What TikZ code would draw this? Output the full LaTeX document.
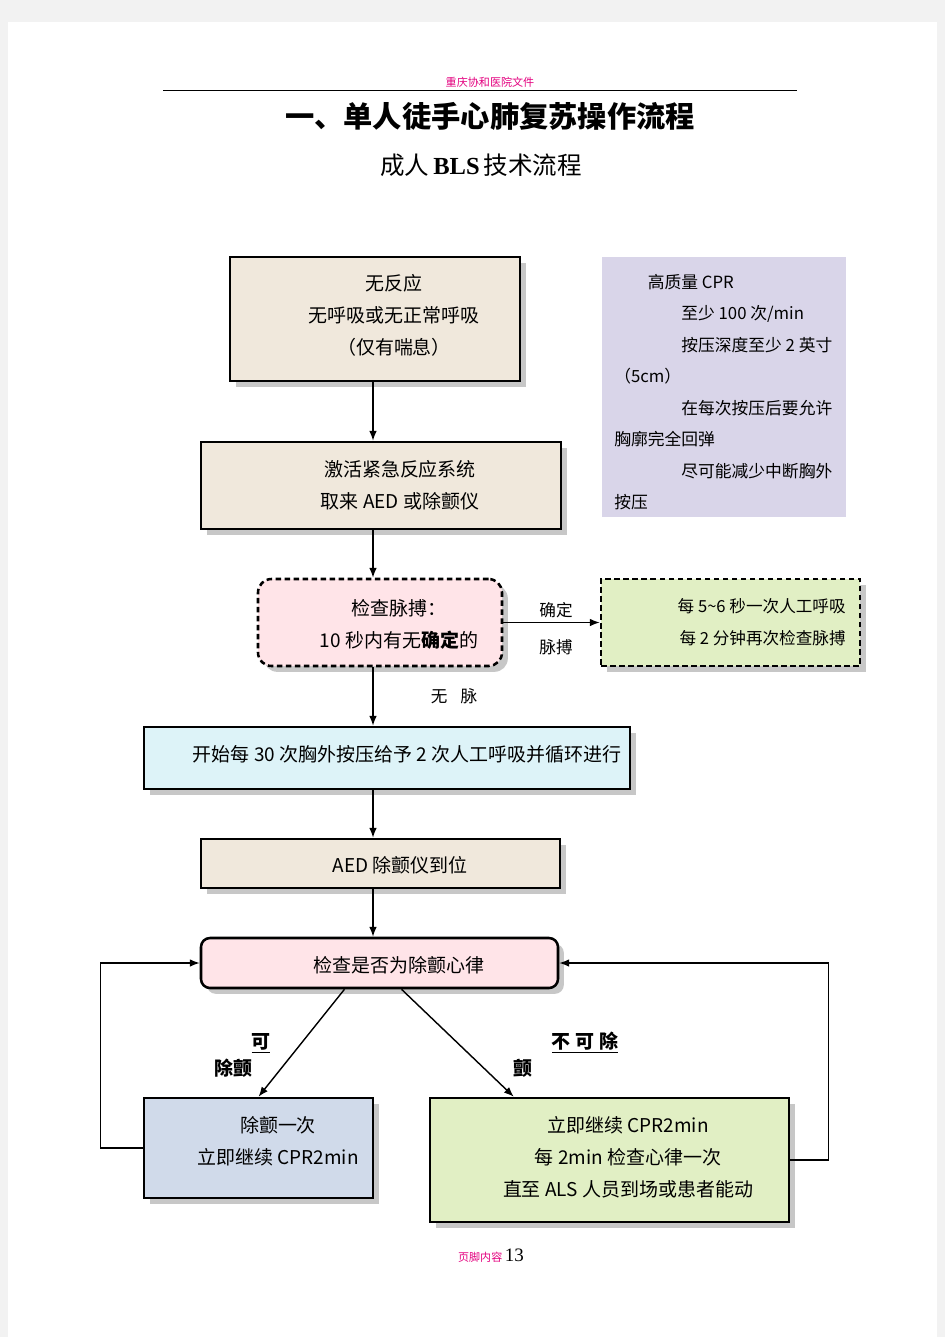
\documentclass[tikz,border=0pt]{standalone}
\usepackage{fontspec}
\setmainfont{Noto Sans CJK SC}
\newfontfamily\latinserif{Liberation Serif}
\usetikzlibrary{arrows.meta,shadows,calc}

\newlength\pxu
\setlength\pxu{0.2222mm}

\definecolor{boxbeige}{HTML}{F0E8DC}
\definecolor{cprpurple}{HTML}{D9D5E9}
\definecolor{checkpink}{HTML}{FFE4E8}
\definecolor{breathgreen}{HTML}{E1EFC4}
\definecolor{compcyan}{HTML}{DDF3F8}
\definecolor{shockblue}{HTML}{D0DAEA}
\definecolor{headpink}{HTML}{E4007F}

\tikzset{
  flowbox/.style={draw, line width=1.6pt, inner sep=0,
    drop shadow={shadow xshift=1.3mm, shadow yshift=-1.3mm, fill=black!22, opacity=1}},
  dashbox/.style={flowbox, dash pattern=on 3.5pt off 2.2pt},
  sz/.style 2 args={minimum width=#1\pxu, minimum height=#2\pxu},
  txt/.style={inner sep=0, align=center, font=\fontsize{12}{20.2}\selectfont},
  small/.style={inner sep=0, font=\fontsize{10.5}{20}\selectfont},
  lbl/.style={inner sep=0, font=\fontsize{12}{14}\selectfont\bfseries},
  arr/.style={-{Latex[length=2.2mm,width=1.7mm]}, line width=0.9pt}
}

\begin{document}
\begin{tikzpicture}[x=1\pxu, y=-1\pxu]
  % page
  \fill[black!5] (0,0) rectangle (945,1337);
  \fill[white] (8,22) rectangle (937,1337);
  \useasboundingbox (0,0) rectangle (945,1337);

  % header and titles
  \node[inner sep=0, font=\fontsize{7}{8}\selectfont, text=headpink] (head) at (490,82) {重庆协和医院文件};
  \draw[line width=0.6pt] (163,90) -- (797,90);
  \node[inner sep=0, font=\fontsize{18.5}{20}\selectfont\bfseries] (title) at (490,116) {一、单人徒手心肺复苏操作流程};
  \node[inner sep=0, font=\fontsize{15.5}{18}\selectfont] (subtitle) at (481,165) {成人\,{\latinserif\bfseries BLS}\,技术流程};

  \coordinate (axis) at (373,0);

  % boxes
  \node[flowbox, fill=boxbeige, sz={290}{124}] (react) at (375,319) {};
  \node[txt] (reacttxt) at (394,315) {无反应\\无呼吸或无正常呼吸\\（仅有喘息）};

  \node[fill=cprpurple, sz={244}{260}, inner sep=0] (cpr) at (724,387) {};
  \node[inner sep=0, anchor=north west, align=left, font=\fontsize{10.6}{19.9}\selectfont] (cprtxt) at (614,274)
    {\hspace*{2em}高质量 CPR\\\hspace*{4em}至少 100 次/min\\\hspace*{4em}按压深度至少 2 英寸\\（5cm）\\
     \hspace*{4em}在每次按压后要允许\\胸廓完全回弹\\\hspace*{4em}尽可能减少中断胸外\\按压};

  \node[flowbox, fill=boxbeige, sz={360}{87}] (alert) at (381,485.5) {};
  \node[txt] (alerttxt) at (400,485) {激活紧急反应系统\\取来 AED 或除颤仪};

  \node[dashbox, rounded corners=3mm, fill=checkpink, sz={244}{87}] (pulse) at (380,622.5) {};
  \node[txt] (pulsetxt) at (399,624.5) {检查脉搏：\\10 秒内有无{\bfseries 确定}的};

  \node[dashbox, fill=breathgreen, sz={259}{87}] (breath) at (730.5,622.5) {};
  \node[small, anchor=east, align=right] (breathtxt) at (846,622) {每 5\textasciitilde6 秒一次人工呼吸\\每 2 分钟再次检查脉搏};

  \node[flowbox, fill=compcyan, sz={486}{62}] (compress) at (387,758) {};
  \node[txt] (compresstxt) at (407,754) {开始每 30 次胸外按压给予 2 次人工呼吸并循环进行};

  \node[flowbox, fill=boxbeige, sz={359}{49}] (aed) at (380.5,863.5) {};
  \node[txt] (aedtxt) at (400,865) {AED 除颤仪到位};

  \node[flowbox, rounded corners=2mm, fill=checkpink, sz={357}{50}] (rhythm) at (379.5,963) {};
  \node[txt] (rhythmtxt) at (399,965) {检查是否为除颤心律};

  \node[flowbox, fill=shockblue, sz={229}{100}] (shock) at (258.5,1148) {};
  \node[txt] (shocktxt) at (278,1141) {除颤一次\\立即继续 CPR2min};

  \node[flowbox, fill=breathgreen, sz={359}{124}] (noshock) at (609.5,1160) {};
  \node[txt] (noshocktxt) at (628,1157) {立即继续 CPR2min\\每 2min 检查心律一次\\直至 ALS 人员到场或患者能动};

  % connectors
  \draw[arr] (react.south -| axis) -- (alert.north -| axis);
  \draw[arr] (alert.south -| axis) -- (pulse.north -| axis);
  \draw[arr] (pulse.south -| axis) -- (compress.north -| axis);
  \draw[arr] (compress.south -| axis) -- (aed.north -| axis);
  \draw[arr] (aed.south -| axis) -- (rhythm.north -| axis);
  \draw[arr] (pulse.east) -- (breath.west);
  \draw[arr] ($(rhythm.south)+(-35,0)$) -- (shock.north);
  \draw[arr] ($(rhythm.south)+(22,0)$) -- ($(noshock.north west)+(85,0)$);
  \draw[arr] (shock.west) -- ++(-42,0) |- (rhythm.west);
  \draw[arr] (noshock.east) -- ++(38,0) |- (rhythm.east);

  % labels
  \node[small] (sure) at (556,610) {确定};
  \node[small] (pulselbl) at (556,647) {脉搏};
  \node[small] (nopulse) at (454,696) {无\hspace{0.8em}脉};
  \node[lbl] (yes1) at (261,1043) {\underline{可}};
  \node[lbl] (yes2) at (233,1068) {除颤};
  \node[lbl] (no1) at (585,1043) {\underline{不\hspace{0.25em}可\hspace{0.25em}除}};
  \node[lbl] (no2) at (523,1068) {颤};

  % footer
  \node[inner sep=0] (foot) at (491,1256) {{\color{headpink}\fontsize{7}{8}\selectfont 页脚内容}\,{\latinserif\fontsize{12}{13}\selectfont 13}};
\end{tikzpicture}
\end{document}
